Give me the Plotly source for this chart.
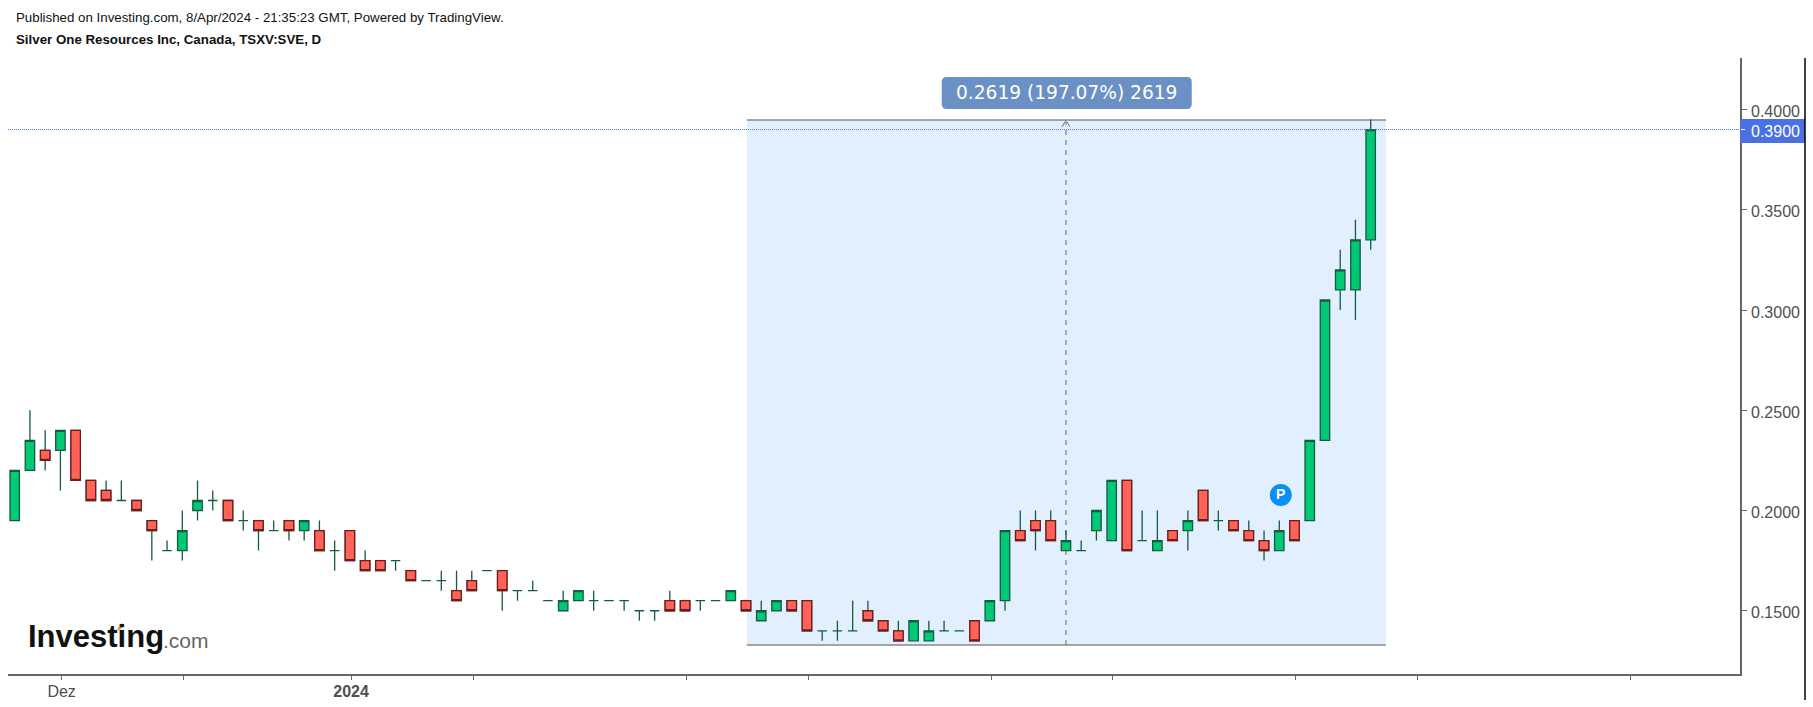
import plotly.graph_objects as go

bars = list(range(90))
opens = [.195,.22,.23,.23,.24,.215,.21,.205,.205,.195,.18,.18,.2,.205,.205,.195,.195,.19,.195,.19,
         .19,.18,.19,.175,.175,.175,.17,.165,.165,.16,.165,.17,.17,.16,.16,.155,.15,.155,.155,.155,
         .155,.15,.15,.155,.155,.155,.155,.155,.155,.145,.15,.155,.155,.14,.14,.14,.15,.145,.14,.135,
         .135,.14,.14,.145,.145,.155,.19,.195,.195,.18,.18,.19,.185,.215,.185,.18,.19,.19,.21,.195,
         .195,.19,.185,.18,.195,.195,.235,.31,.31,.335]
highs = [.22,.25,.24,.24,.24,.215,.215,.215,.205,.195,.185,.2,.215,.21,.205,.2,.195,.195,.195,.195,
         .195,.185,.19,.18,.175,.175,.17,.165,.17,.17,.17,.17,.17,.16,.165,.155,.16,.16,.16,.155,
         .155,.15,.15,.16,.155,.155,.155,.16,.155,.155,.155,.155,.155,.14,.145,.155,.155,.145,.145,.145,
         .145,.145,.14,.145,.155,.19,.2,.2,.2,.19,.185,.2,.215,.215,.2,.2,.19,.2,.21,.2,
         .195,.195,.19,.195,.195,.235,.305,.33,.345,.395]
lows = [.195,.22,.22,.21,.215,.205,.205,.205,.2,.175,.18,.175,.195,.2,.195,.19,.18,.19,.185,.185,
        .18,.17,.175,.17,.17,.17,.165,.165,.16,.155,.16,.17,.15,.155,.16,.155,.15,.155,.15,.155,
        .15,.145,.145,.15,.15,.15,.155,.155,.15,.145,.15,.15,.14,.135,.135,.14,.145,.14,.135,.135,
        .135,.14,.14,.135,.145,.15,.185,.18,.185,.18,.18,.185,.185,.18,.185,.18,.185,.18,.195,.19,
        .19,.185,.175,.18,.185,.195,.235,.30,.295,.33]
closes = [.22,.235,.225,.24,.215,.205,.205,.205,.2,.19,.18,.19,.205,.205,.195,.195,.19,.19,.19,.195,
          .18,.18,.175,.17,.17,.175,.165,.165,.165,.155,.16,.17,.16,.16,.16,.155,.155,.16,.155,.155,
          .155,.15,.15,.15,.15,.155,.155,.16,.15,.15,.155,.15,.14,.14,.14,.14,.145,.14,.135,.145,
          .14,.14,.14,.135,.155,.19,.185,.19,.185,.185,.18,.2,.215,.18,.185,.185,.185,.195,.195,.195,
          .19,.185,.18,.19,.185,.235,.305,.32,.335,.39]

y_ticks = [.15, .20, .25, .30, .35, .40]
x_ticks = [3.08, 11.08, 22.08, 30.08, 44.08, 52.08, 64.08, 72.08, 84.08, 92.08, 106.08]
x_labels = ["Dez", "", "<b>2024</b>", "", "", "", "", "", "", "", ""]

measure_low, measure_high = 0.1329, 0.3948
measure_start, measure_end, measure_mid = 48.06, 90.0, 69.0
last_price = 0.39
pivot_bar, pivot_price = 83.1, 0.2077

L, R, T, B = 8, 1740, 58, 674
def px(x): return (x - L) / (R - L)
def py(y): return (B - y) / (B - T)

GREEN, RED = "#00c875", "#ff6358"
D_GREEN, D_RED = "#135c40", "#751a1a"
AXIS = "#666666"; TXT = "#4f4f4f"; BLUE = "#4a70e4"

fig = go.Figure()
fig.add_trace(go.Candlestick(
    x=bars, open=opens, high=highs, low=lows, close=closes, whiskerwidth=0,
    increasing=dict(line=dict(color=D_GREEN, width=1.3), fillcolor=GREEN),
    decreasing=dict(line=dict(color=D_GREEN, width=1.3), fillcolor=RED),
    hoverinfo="skip", showlegend=False))
red = [i for i in bars if closes[i] < opens[i]]
fig.add_trace(go.Candlestick(
    x=red, open=[opens[i] for i in red], close=[closes[i] for i in red],
    high=[opens[i] for i in red], low=[closes[i] for i in red], whiskerwidth=0,
    decreasing=dict(line=dict(color=D_RED, width=1.3), fillcolor=RED),
    hoverinfo="skip", showlegend=False))
fig.add_trace(go.Scatter(
    x=[pivot_bar], y=[pivot_price], mode="markers+text", text=["<b>P</b>"],
    textposition="middle center", textfont=dict(color="white", size=14, family="Liberation Sans"),
    marker=dict(size=22, color="#0a8ff5"), hoverinfo="skip", showlegend=False))

shapes = [
    dict(type="rect", x0=measure_start, x1=measure_end, y0=measure_low, y1=measure_high,
         fillcolor="#e1effe", line_width=0, layer="below"),
    dict(type="line", x0=measure_start, x1=measure_end, y0=measure_low, y1=measure_low,
         line=dict(color="#888888", width=1.5), layer="below"),
    dict(type="line", x0=measure_start, x1=measure_end, y0=measure_high, y1=measure_high,
         line=dict(color="#888888", width=1.5), layer="below"),
    dict(type="line", x0=measure_mid, x1=measure_mid, y0=measure_low, y1=measure_high,
         line=dict(color="#808080", width=1.2, dash="5px,5px"), layer="below"),
    dict(type="path", xsizemode="pixel", ysizemode="pixel", xanchor=measure_mid, yanchor=measure_high,
         path="M -4 -7 L -1 -2 M 4 -7 L 1 -2", line=dict(color="#707070", width=1)),
    dict(type="line", xref="paper", x0=0, x1=1, y0=last_price, y1=last_price,
         line=dict(color=BLUE, width=1, dash="1px,1px")),
    dict(type="rect", xref="paper", x0=1, x1=px(1805), yref="paper", y0=py(143), y1=py(119),
         fillcolor=BLUE, line_width=0),
    dict(type="line", xref="paper", x0=px(1741), x1=px(1745), y0=last_price, y1=last_price,
         line=dict(color="white", width=1)),
    dict(type="line", xref="paper", x0=px(1805), x1=px(1805), yref="paper", y0=py(700), y1=py(58),
         line=dict(color="black", width=1.5)),
    dict(type="path", xsizemode="pixel", ysizemode="pixel", xanchor=measure_mid + 0.05, yanchor=measure_high,
         path="M -120 11 L 120 11 Q 125 11 125 16 L 125 38 Q 125 43 120 43 L -120 43 Q -125 43 -125 38 L -125 16 Q -125 11 -120 11 Z",
         fillcolor="#6b90c5", line_width=0),
    dict(type="line", xref="paper", yref="paper", x0=px(118), x1=px(123), y0=py(630), y1=py(624),
         line=dict(color="#f5a623", width=3)),
]

def note(text, x, y, size, color="black", family="Liberation Sans", anchor="left"):
    return dict(text=text, xref="paper", yref="paper", x=px(x), y=py(y), showarrow=False,
                xanchor=anchor, yanchor="middle", align="left",
                font=dict(size=size, color=color, family=family))

annotations = [
    note("Published on Investing.com, 8/Apr/2024 - 21:35:23 GMT, Powered by TradingView.", 14, 17, 13.3, "#111111"),
    note("<b>Silver One Resources Inc, Canada, TSXV:SVE, D</b>", 14, 40, 13.3, "#111111"),
    note("0.2619 (197.07%) 2619", 1066.8, 93, 18.6, "white", "DejaVu Sans", "center"),
    note("0.3900", 1749, 132, 16, "white"),
    note("<b>Investing</b>", 26, 636, 31, "#111111"),
    note(".com", 161, 640, 21, "#666666"),
]
for v in y_ticks:
    annotations.append(dict(text=f"{v:.4f}", xref="paper", yref="y", x=px(1749), y=v, yshift=-2,
                            showarrow=False, xanchor="left", yanchor="middle",
                            font=dict(size=16, color=TXT, family="Liberation Sans")))

fig.update_layout(
    width=1813, height=707, margin=dict(l=L, r=1813 - R, t=T, b=707 - B, autoexpand=False),
    paper_bgcolor="white", plot_bgcolor="white", hovermode=False, showlegend=False,
    boxgap=0.38, boxgroupgap=0, boxmode="overlay", shapes=shapes, annotations=annotations,
    font=dict(family="Liberation Sans", size=16, color=TXT),
    xaxis=dict(range=[-0.44, 113.24], rangeslider=dict(visible=False), showgrid=False, zeroline=False,
               tickmode="array", tickvals=x_ticks, ticktext=x_labels, ticks="outside", ticklen=4,
               ticklabelstandoff=-2, tickcolor=AXIS, tickwidth=1, showline=True, linecolor=AXIS, linewidth=1.5),
    yaxis=dict(range=[0.11845, 0.4257], side="right", showgrid=False, zeroline=False,
               tickmode="array", tickvals=y_ticks, showticklabels=False,
               ticks="outside", ticklen=5, tickcolor=AXIS, tickwidth=1, showline=True,
               linecolor=AXIS, linewidth=1.5),
)
fig.write_html("out.html", config=dict(displayModeBar=False),
               post_script="document.body.style.margin='0';")
